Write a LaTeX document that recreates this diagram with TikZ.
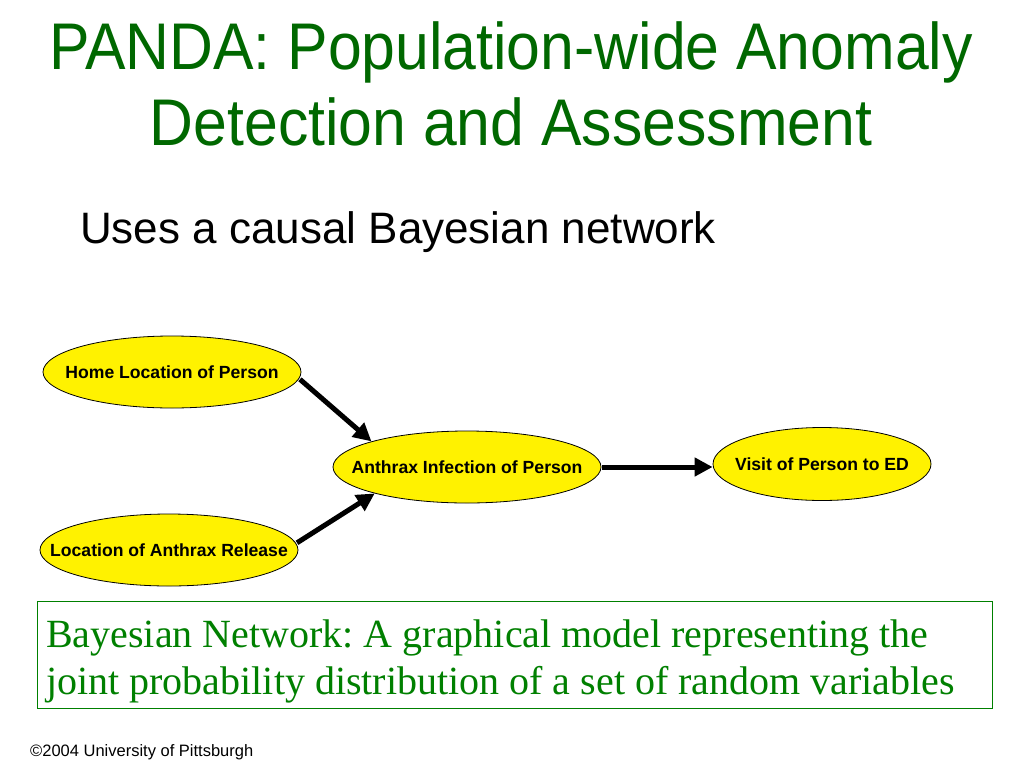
\documentclass[tikz,border=0pt]{standalone}
\usepackage{fontspec}
\setmainfont{Liberation Serif}
\setsansfont{Liberation Sans}
\newfontfamily\titlefont[FakeStretch=0.92]{Liberation Sans}
\usetikzlibrary{shapes.geometric,arrows.meta}
\definecolor{titlegreen}{RGB}{0,104,0}
\definecolor{boxgreen}{RGB}{0,128,0}
\tikzset{
  var/.style={ellipse, draw=black, line width=0.8pt, fill=yellow, inner sep=0pt,
    font=\sffamily\bfseries\fontsize{17.6}{20}\selectfont, text=black},
  link/.style={line width=5pt, draw=black, -{Triangle[length=18pt,width=18pt]}, shorten <=1pt},
  titletext/.style={font=\titlefont\fontsize{66}{70}\selectfont, text=titlegreen, anchor=base, inner sep=0pt},
  deftext/.style={anchor=base west, inner sep=0pt, text=boxgreen, font=\rmfamily\fontsize{40}{47}\selectfont},
}
\begin{document}
\begin{tikzpicture}[x=1pt,y=-1pt]
\useasboundingbox (0,0) rectangle (1024,768);
\fill[white] (0,0) rectangle (1024,768);
% title
\node[titletext] (title1) at (511,70) {PANDA: Population-wide Anomaly};
\node[titletext] (title2) at (511,145) {Detection and Assessment};
\node[font=\sffamily\fontsize{44}{48}\selectfont, anchor=base west, inner sep=0pt] (sub) at (80,243)
  {Uses a causal Bayesian network};
% nodes
\node[var, minimum width=258pt, minimum height=72pt] (home) at (172,372) {\makebox[0pt]{Home Location of Person}};
\node[var, minimum width=258pt, minimum height=72pt] (rel) at (169,550) {\makebox[0pt]{Location of Anthrax Release}};
\node[var, minimum width=268pt, minimum height=72pt] (inf) at (467,467) {\makebox[0pt]{Anthrax Infection of Person}};
\node[var, minimum width=218pt, minimum height=73pt] (vis) at (822,464) {\makebox[0pt]{Visit of Person to ED}};
% links
\draw[link] (home.-3) -- (inf.165);
\draw[link] (rel.3) -- (inf.196);
\draw[link] (inf.east) -- (vis.west |- inf.east);
% definition box
\draw[draw=boxgreen, line width=0.8pt] (37,601) rectangle (992,708);
\node[deftext] (def1) at (46,647)
  {\frenchspacing Bayesian Network: A graphical model representing the};
\node[deftext] (def2) at (46,694)
  {\frenchspacing joint probability distribution of a set of random variables};
% footer
\node[font=\sffamily\fontsize{16.5}{18}\selectfont, anchor=base west, inner sep=0pt] (foot) at (30,756)
  {©2004 University of Pittsburgh};
\end{tikzpicture}
\end{document}
